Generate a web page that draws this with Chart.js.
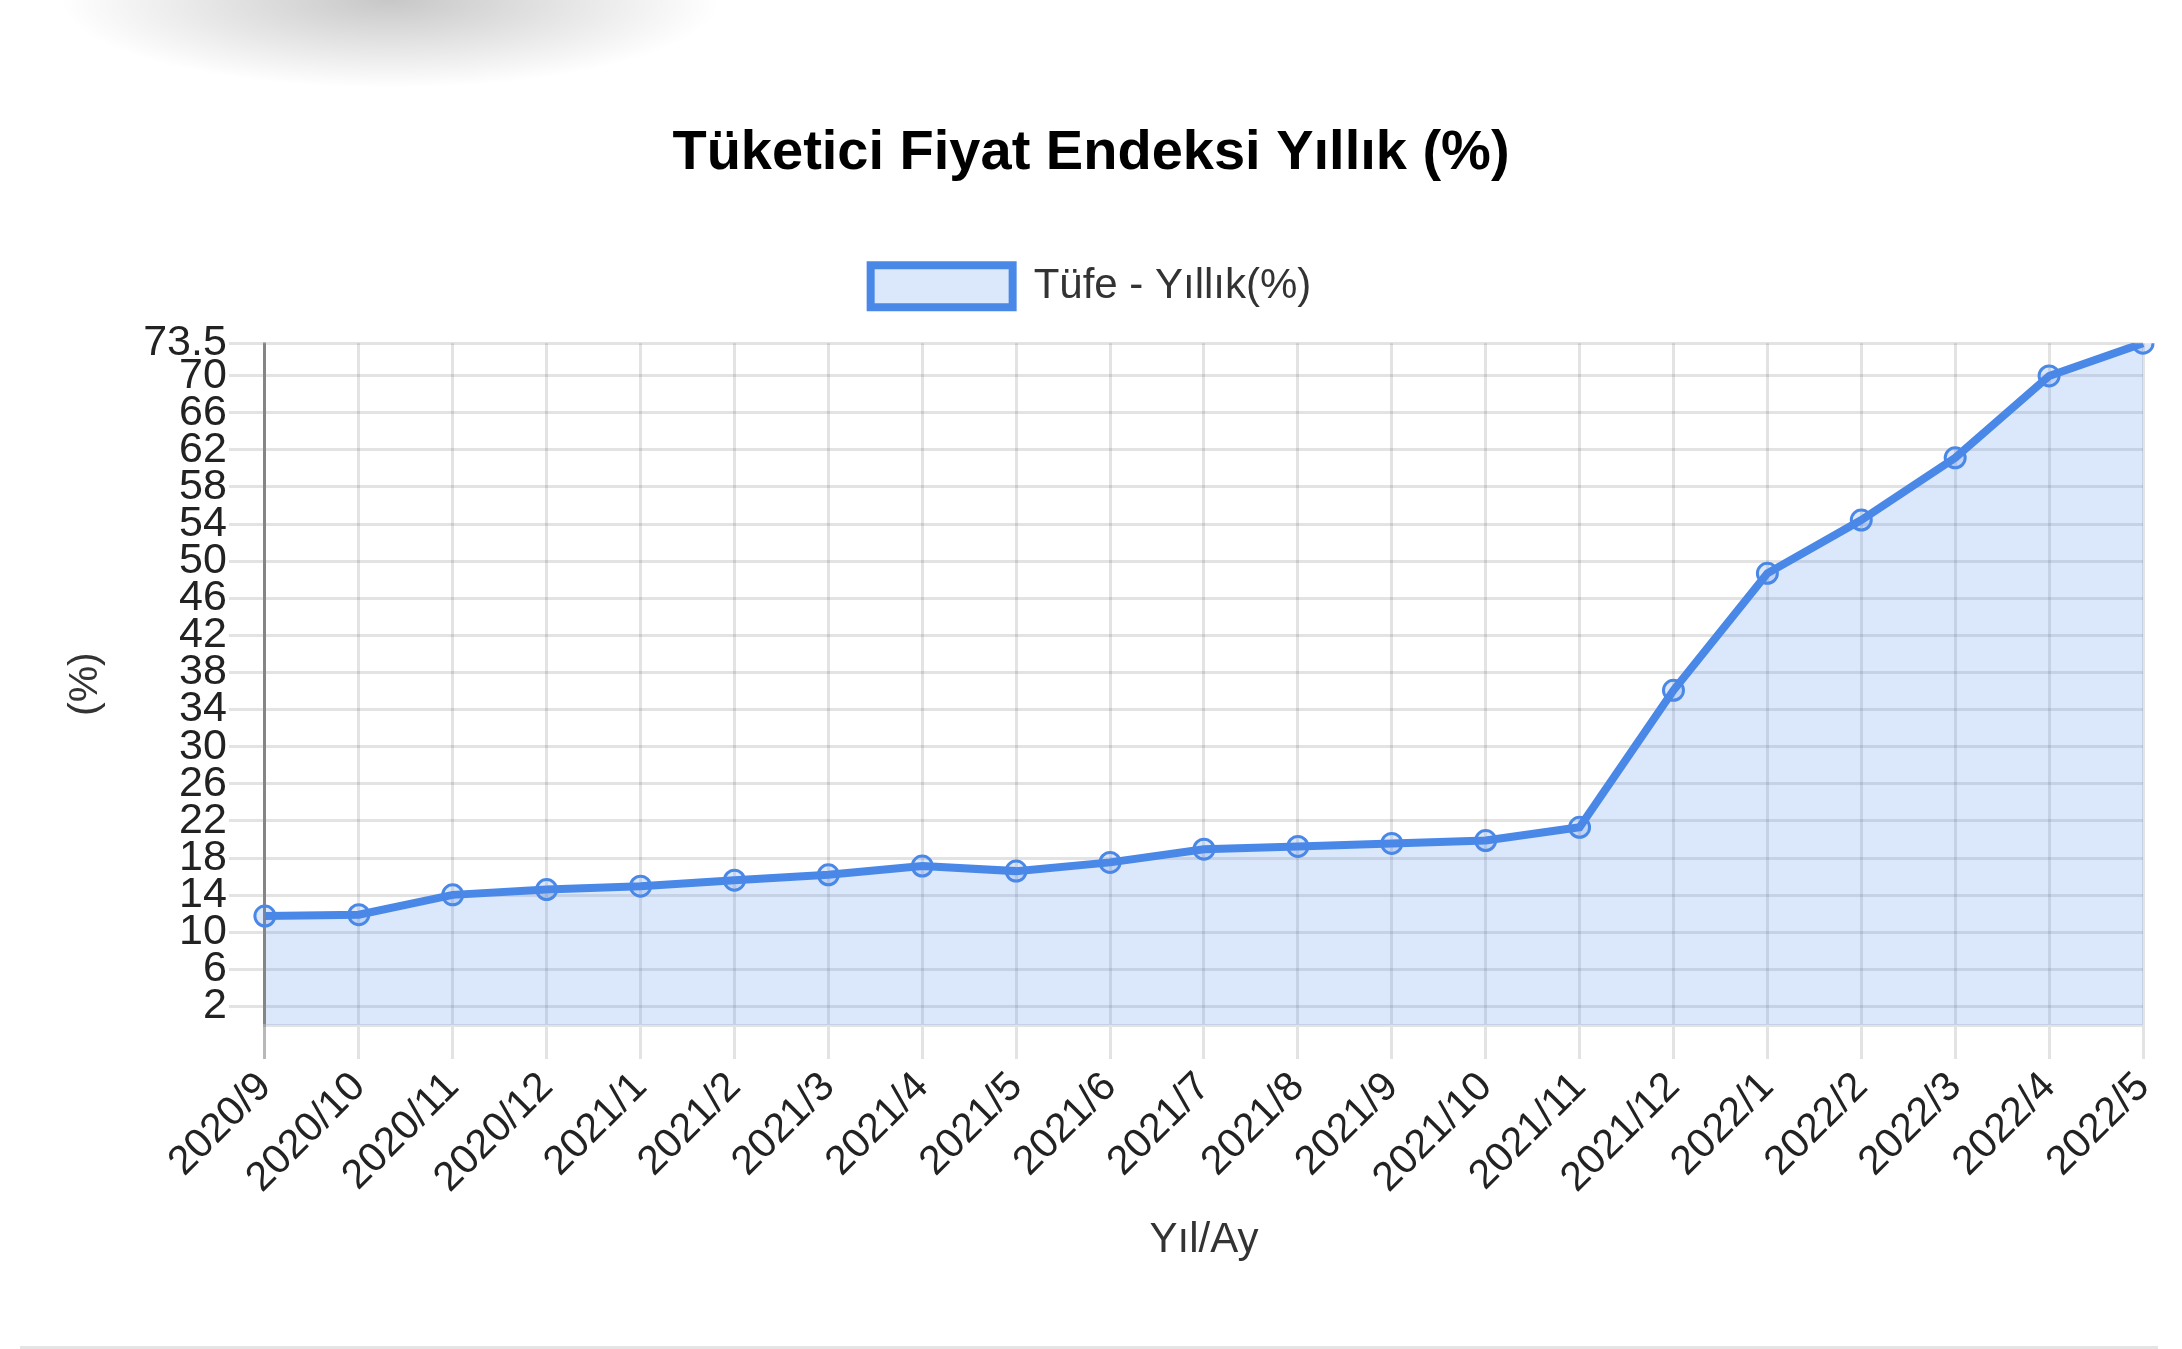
<!DOCTYPE html>
<html lang="tr">
<head>
<meta charset="utf-8">
<title>Tüketici Fiyat Endeksi Yıllık (%)</title>
<script src="https://cdn.jsdelivr.net/npm/chart.js@4"></script>
<style>
    html, body {
        margin: 0;
        padding: 0;
        background: #ffffff;
    }
    body {
        width: 2182px;
        height: 1349px;
        position: relative;
        overflow: hidden;
        /* soft shadow blob in the top left corner */
        background: radial-gradient(ellipse 330px 88px at 390px 0px, rgba(0,0,0,0.22), rgba(0,0,0,0) 100%), #ffffff;
    }
    #bottom-rule {
        position: absolute;
        left: 20px;
        width: 2138px;
        bottom: 0;
        height: 3px;
        background: #e4e4e4;
    }
    #chart {
        position: absolute;
        left: 0;
        top: 0;
    }
</style>
</head>
<body>
<canvas id="chart" width="2182" height="1349"></canvas>
<div id="bottom-rule"></div>
<script>
// data
const categories = ['2020/9', '2020/10', '2020/11', '2020/12', '2021/1', '2021/2', '2021/3',
    '2021/4', '2021/5', '2021/6', '2021/7', '2021/8', '2021/9', '2021/10', '2021/11',
    '2021/12', '2022/1', '2022/2', '2022/3', '2022/4', '2022/5'];
const tufeValues = [11.75, 11.89, 14.03, 14.60, 14.97, 15.61, 16.19, 17.14, 16.59, 17.53,
    18.95, 19.25, 19.58, 19.89, 21.31, 36.08, 48.69, 54.44, 61.14, 69.97, 73.50];
const yTicks = [2, 6, 10, 14, 18, 22, 26, 30, 34, 38, 42, 46, 50, 54, 58, 62, 66, 70, 73.5];

const chartTitle = 'Tüketici Fiyat Endeksi Yıllık (%)';
const seriesLabel = 'Tüfe - Yıllık(%)';
const xTitle = 'Yıl/Ay';
const yTitle = '(%)';

const FONT = "'Liberation Sans', Arial, sans-serif";
const lineBlue = '#4a88e8';
const fillBlue = 'rgba(74, 136, 232, 0.2)';
const gridGray = 'rgba(0, 0, 0, 0.11)';
const zeroGray = 'rgba(0, 0, 0, 0.28)';

// a bit more room between legend and plot
const legendGap = {
    id: 'legendGap',
    beforeInit(chart) {
        const fit = chart.legend.fit;
        chart.legend.fit = function () {
            fit.bind(chart.legend)();
            this.height += 26;
        };
    }
};

const ctx = document.getElementById('chart').getContext('2d');

new Chart(ctx, {
    type: 'line',
    data: {
        labels: categories,
        datasets: [{
            label: seriesLabel,
            data: tufeValues,
            borderColor: lineBlue,
            backgroundColor: fillBlue,
            borderWidth: 8,
            fill: true,
            tension: 0,
            pointRadius: 10,
            pointBorderWidth: 3,
            pointBorderColor: lineBlue,
            pointBackgroundColor: fillBlue
        }]
    },
    plugins: [legendGap],
    options: {
        responsive: false,
        devicePixelRatio: 1,
        animation: false,
        layout: {
            padding: { top: 120, left: 39, right: 39, bottom: 83 }
        },
        plugins: {
            title: {
                display: true,
                text: chartTitle,
                color: '#000',
                font: { family: FONT, size: 56, weight: 'bold' },
                padding: { top: 0, bottom: 43 }
            },
            legend: {
                display: true,
                labels: {
                    color: '#333',
                    font: { family: FONT, size: 42 },
                    boxWidth: 142,
                    boxHeight: 42,
                    padding: 35
                }
            },
            tooltip: { enabled: false }
        },
        scales: {
            x: {
                offset: false,
                title: {
                    display: true,
                    text: xTitle,
                    color: '#333',
                    font: { family: FONT, size: 42 },
                    padding: { top: 9, bottom: 0 }
                },
                ticks: {
                    color: '#222',
                    font: { family: FONT, size: 41 },
                    minRotation: 45,
                    maxRotation: 45,
                    autoSkip: false,
                    padding: 4
                },
                grid: {
                    color: (c) => c.index === 0 ? zeroGray : gridGray,
                    lineWidth: 3,
                    tickLength: 34
                },
                border: { color: gridGray, width: 3 }
            },
            y: {
                min: 0,
                max: 73.5,
                afterBuildTicks: (scale) => {
                    scale.ticks = yTicks.map(v => ({ value: v }));
                },
                title: {
                    display: true,
                    text: yTitle,
                    color: '#333',
                    font: { family: FONT, size: 41 },
                    padding: { top: 22, bottom: 31 }
                },
                ticks: {
                    color: '#222',
                    font: { family: FONT, size: 43 },
                    padding: 2,
                    autoSkip: false,
                    callback: (v) => String(v)
                },
                grid: {
                    color: gridGray,
                    lineWidth: 3,
                    tickLength: 36
                },
                border: { color: zeroGray, width: 3 }
            }
        }
    }
});
</script>
</body>
</html>
